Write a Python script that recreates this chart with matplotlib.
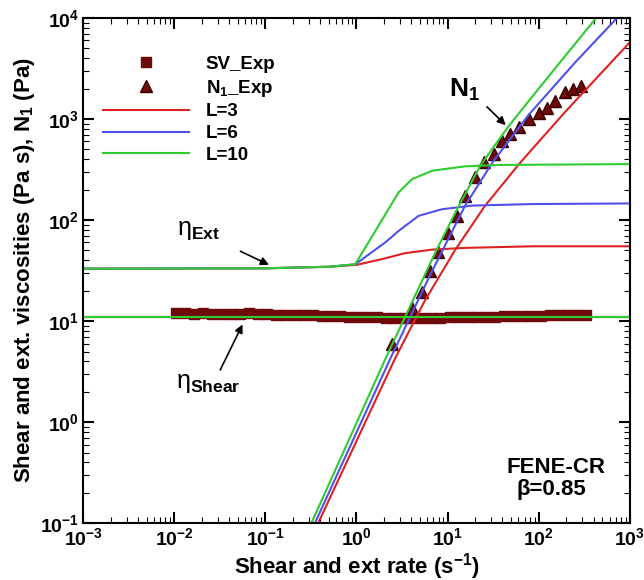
import math
import matplotlib
matplotlib.use('Agg')
import matplotlib.pyplot as plt
from matplotlib.ticker import LogLocator, FuncFormatter, NullFormatter

plt.rcParams['font.family'] = 'Liberation Sans'
plt.rcParams['mathtext.fontset'] = 'custom'
plt.rcParams['mathtext.rm'] = 'Liberation Sans'
plt.rcParams['mathtext.bf'] = 'Liberation Sans:bold'
plt.rcParams['mathtext.it'] = 'Liberation Sans:italic'

# experimental shear viscosity (SV_Exp)
sv_rate = [0.0105, 0.0132, 0.0166, 0.0209, 0.0263, 0.0331, 0.0417, 0.0525, 0.0661, 0.0832,
           0.105, 0.132, 0.166, 0.209, 0.263, 0.331, 0.417, 0.525, 0.661, 0.832,
           1.05, 1.32, 1.66, 2.09, 2.63, 3.31, 4.17, 5.25, 6.61, 8.32,
           10.5, 13.2, 16.6, 20.9, 26.3, 33.1, 41.7, 52.5, 66.1, 83.2,
           105, 132, 166, 209, 263, 331]
sv_visc = [11.9, 11.9, 11.8, 11.9, 11.8, 11.8, 11.7, 11.8, 11.9, 11.7,
           11.7, 11.6, 11.6, 11.5, 11.4, 11.4, 11.3, 11.2, 11.2, 11.1,
           11.0, 10.9, 10.9, 10.8, 10.8, 10.7, 10.7, 10.7, 10.8, 10.8,
           10.9, 10.9, 11.0, 11.0, 11.1, 11.1, 11.2, 11.2, 11.3, 11.3,
           11.3, 11.4, 11.4, 11.4, 11.5, 11.5]

# experimental first normal stress difference (N1_Exp)
n1_rate = [2.44, 4.06, 5.22, 6.46, 7.94, 10.2, 12.6, 15.5, 20.0, 25.1, 32.0,
           39.8, 49.0, 60.3, 77.6, 100, 123, 151, 195, 240, 288]
n1_exp = [5.9, 13.6, 19.2, 31.5, 48, 75, 110, 174, 265, 372, 450,
          611, 711, 830, 1000, 1160, 1300, 1515, 1830, 1990, 2140]

# FENE-CR model, shear viscosity (same for all L)
shear_rate = [0.001, 1000]
shear_visc = [11, 11]

# FENE-CR model, extensional viscosity
ext_rate_3 = [0.001, 0.1, 0.5, 1.0, 1.9, 3.4, 6.8, 15.5, 85, 1000]
ext_visc_3 = [33, 33.3, 34.5, 36, 41, 47, 51, 53, 55, 55]
ext_rate_6 = [0.001, 0.1, 0.5, 0.97, 2.07, 2.9, 4.8, 8.7, 18.6, 85, 1000]
ext_visc_6 = [33, 33.3, 34.5, 36.5, 60, 78, 110, 128, 139, 144, 146]
ext_rate_10 = [0.001, 0.1, 0.5, 0.97, 2.9, 4.1, 6.8, 15.5, 36, 1000]
ext_visc_10 = [33, 33.3, 34.5, 36.5, 188, 255, 308, 340, 351, 358]

# FENE-CR model, N1
n1_rate_3 = [0.38, 2.63, 5.6, 12.0, 25.7, 63, 195, 977]
n1_mod_3 = [0.1, 4.2, 15.8, 50, 138, 372, 1175, 5620]
n1_rate_6 = [0.35, 2.34, 6.3, 15.5, 31.6, 77.6, 251, 724, 1000]
n1_mod_6 = [0.1, 4.2, 27.5, 138, 380, 1100, 3630, 10000, 13800]
n1_rate_10 = [0.32, 2.07, 7.6, 12.6, 22.9, 46.8, 100, 178, 427, 631]
n1_mod_10 = [0.1, 4.2, 51, 126, 347, 851, 2000, 3800, 10000, 15100]

red = '#dd2222'
blue = '#5050ee'
green = '#2ecc2e'
maroon = '#6e0a0a'

fig = plt.figure(figsize=(6.44, 5.80), dpi=100)
ax = fig.add_axes([0.129, 0.098, 0.849, 0.871])

ax.plot(sv_rate, sv_visc, 's', color=maroon, mec=maroon, ms=7, label='SV_Exp')
ax.plot(n1_rate, n1_exp, '^', color=maroon, mec='#3a0000', ms=8, label=r'N$_\mathbf{1}$_Exp')

lw = 1.5
ax.plot(shear_rate, shear_visc, color=red, lw=lw, label='L=3')
ax.plot(ext_rate_3, ext_visc_3, color=red, lw=lw)
ax.plot(n1_rate_3, n1_mod_3, color=red, lw=lw)
ax.plot(shear_rate, shear_visc, color=blue, lw=lw, label='L=6')
ax.plot(ext_rate_6, ext_visc_6, color=blue, lw=lw)
ax.plot(n1_rate_6, n1_mod_6, color=blue, lw=lw)
ax.plot(shear_rate, shear_visc, color=green, lw=lw, label='L=10')
ax.plot(ext_rate_10, ext_visc_10, color=green, lw=lw)
ax.plot(n1_rate_10, n1_mod_10, color=green, lw=lw)

ax.set_xscale('log')
ax.set_yscale('log')
ax.set_xlim(1e-3, 1e3)
ax.set_ylim(1e-1, 1e4)

fmt = FuncFormatter(lambda v, p: r'$\mathbf{10^{%d}}$' % round(math.log10(v)))
for axis in (ax.xaxis, ax.yaxis):
    axis.set_major_locator(LogLocator(base=10, numticks=10))
    axis.set_minor_locator(LogLocator(base=10, subs=range(2, 10), numticks=100))
    axis.set_major_formatter(fmt)
    axis.set_minor_formatter(NullFormatter())
ax.tick_params(which='both', direction='in', top=True, right=True, labelsize=14)
ax.tick_params(which='major', length=8, width=1.5, pad=3)
ax.tick_params(which='minor', length=4, width=0.8)
for s in ax.spines.values():
    s.set_linewidth(1.5)

ax.set_xlabel(r'Shear and ext rate (s$^\mathbf{-1}$)', fontsize=16, fontweight='bold', labelpad=1)
ax.set_ylabel(r'Shear and ext. viscosities (Pa s), N$_\mathbf{1}$ (Pa)', fontsize=16,
              fontweight='bold', labelpad=2)

ax.legend(loc='upper left', bbox_to_anchor=(0.022, 0.94), frameon=False,
          prop={'weight': 'bold', 'size': 13.5}, handlelength=4.6, handletextpad=0.9,
          labelspacing=0.25, borderaxespad=0, markerscale=1.1)

arrow = dict(arrowstyle='-|>', color='black', lw=1.2, mutation_scale=12)
ax.annotate('', xy=(0.117, 35), xytext=(0.050, 50.5), arrowprops=arrow)
ax.text(0.0185, 80, r'η$_\mathbf{Ext}$', fontsize=18, ha='center', va='center')
ax.annotate('', xy=(0.058, 9.8), xytext=(0.031, 3.1), arrowprops=arrow)
ax.text(0.0234, 2.43, r'η$_\mathbf{Shear}$', fontsize=18, ha='center', va='center')
ax.annotate('', xy=(45.7, 832), xytext=(25.7, 1380), arrowprops=arrow)
ax.text(15.5, 1940, r'$\mathbf{N_1}$', fontsize=19, ha='center', va='center')

ax.text(0.865, 0.111, 'FENE-CR', transform=ax.transAxes, fontsize=16, fontweight='bold',
        ha='center', va='center')
ax.text(0.857, 0.066, 'β=0.85', transform=ax.transAxes, fontsize=16, fontweight='bold',
        ha='center', va='center')

fig.savefig('out.png', dpi=100)
